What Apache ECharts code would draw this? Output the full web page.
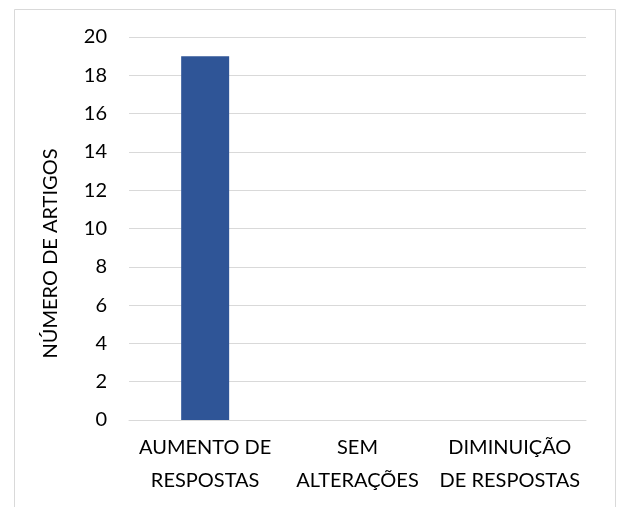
<!DOCTYPE html>
<html>
<head>
<meta charset="utf-8">
<script src="https://cdn.jsdelivr.net/npm/echarts@6/dist/echarts.min.js"></script>
<style>
  html, body { margin: 0; padding: 0; background: #fff; }
  #chart { width: 620px; height: 507px; }
</style>
</head>
<body>
<div id="chart"></div>
<script>
// Categories and counts of articles per outcome
const categories = ['AUMENTO DE\nRESPOSTAS', 'SEM\nALTERAÇÕES', 'DIMINUIÇÃO\nDE RESPOSTAS'];
const articleCounts = [19, 0, 0];
const yAxisTitle = 'NÚMERO DE ARTIGOS';

const font = 'Lato, "Liberation Sans", sans-serif';
const chart = echarts.init(document.getElementById('chart'));
chart.setOption({
  animation: false,
  backgroundColor: '#ffffff',
  // light frame around the chart area
  graphic: [{
    type: 'rect',
    left: 12, top: 7,
    shape: { width: 601, height: 520 },
    style: { fill: 'none', stroke: '#d9d9d9', lineWidth: 1 },
    silent: true
  }],
  grid: { left: 129, right: 34, top: 37, bottom: 87, containLabel: false },
  xAxis: {
    type: 'category',
    data: categories,
    axisLine: { show: true, lineStyle: { color: '#d9d9d9', width: 1 } },
    axisTick: { show: false },
    axisLabel: {
      color: '#000', fontFamily: font, fontSize: 20, lineHeight: 33,
      margin: 11, interval: 0
    }
  },
  yAxis: {
    type: 'value',
    min: 0, max: 20, interval: 2,
    name: yAxisTitle,
    nameLocation: 'middle',
    nameGap: 68,
    nameRotate: 90,
    // right padding nudges the rotated title a little below the plot centre
    nameTextStyle: { color: '#000', fontFamily: font, fontSize: 20, padding: [0, 50, 0, 0] },
    axisLine: { show: false },
    axisTick: { show: false },
    axisLabel: { color: '#000', fontFamily: font, fontSize: 20, margin: 22 },
    splitLine: { lineStyle: { color: '#d9d9d9', width: 1 } }
  },
  series: [{
    type: 'bar',
    data: articleCounts,
    barWidth: '31.5%',
    itemStyle: { color: '#2f5597' }
  }]
});
</script>
</body>
</html>
